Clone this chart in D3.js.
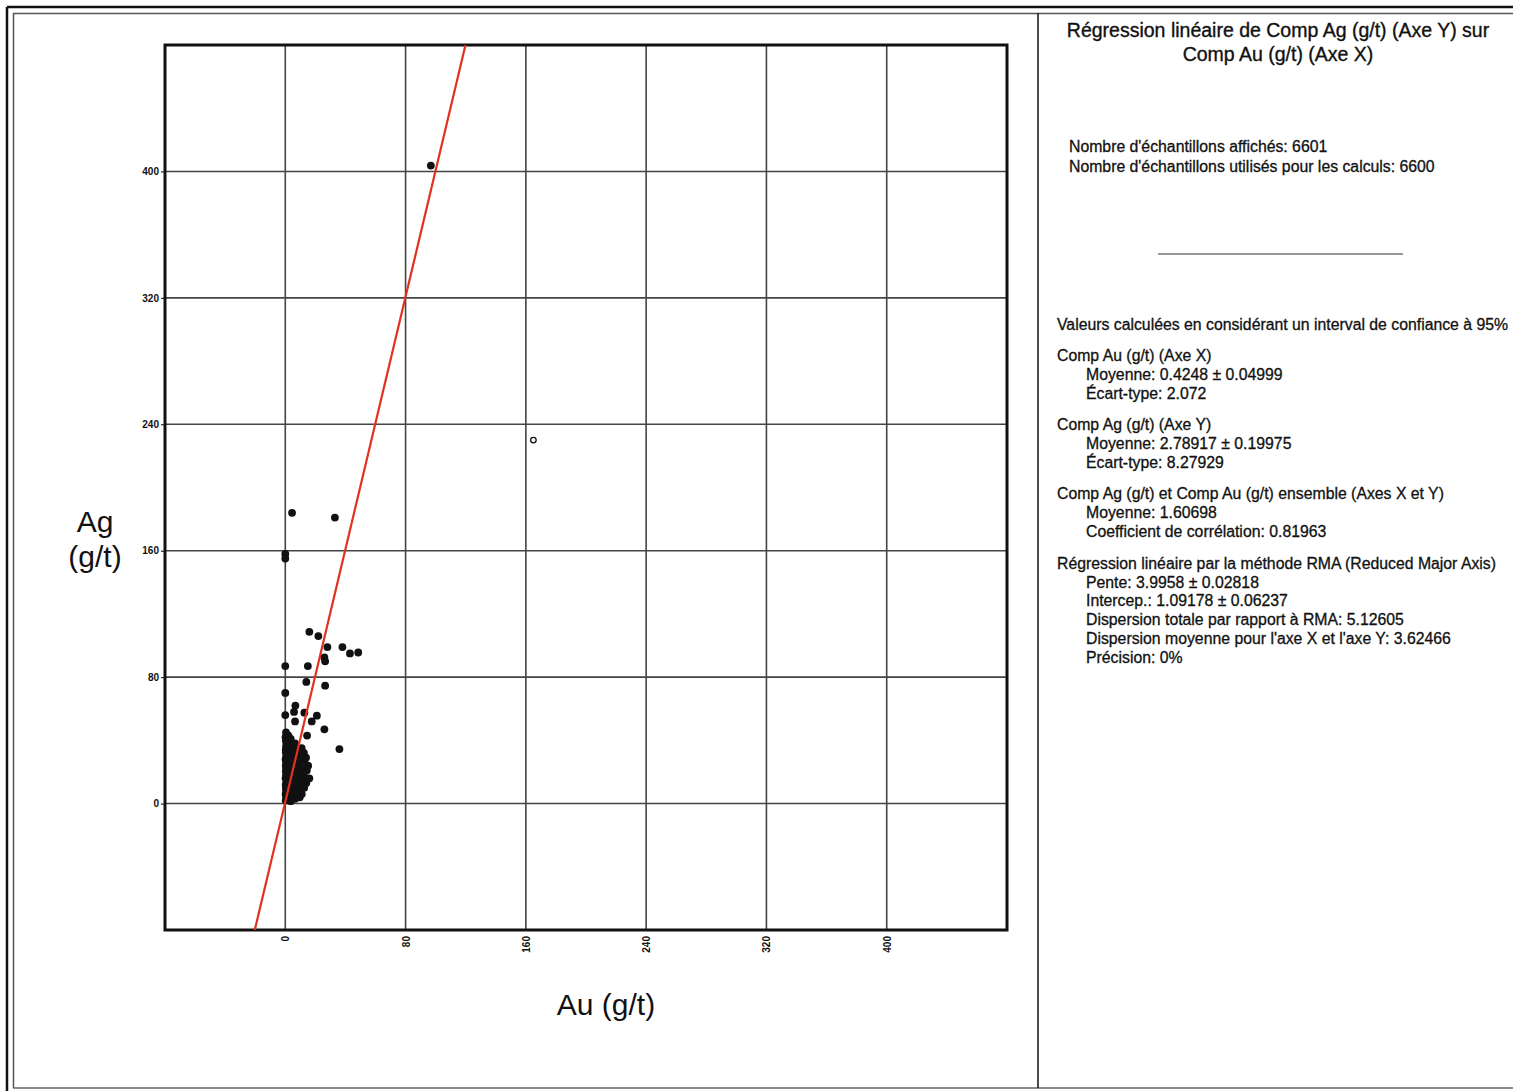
<!DOCTYPE html>
<html>
<head>
<meta charset="utf-8">
<script src="https://cdn.jsdelivr.net/npm/d3@7"></script>
<style>
  body { margin: 0; background: #fff; }
  text { font-family: "Liberation Sans", Arial, sans-serif; }
</style>
</head>
<body>
<div id="canvas"></div>
<script>
var w = 1513;
var h = 1091;

// axis ticks
var xTicks = [0, 80, 160, 240, 320, 400];
var yTicks = [0, 80, 160, 240, 320, 400];

// samples (Au, Ag)
var auVals = [4.5, 33, 0, 0, 16, 22, 28, 38, 43, 48.5, 26, 26.5, 0, 15, 14, 26.5, 0, 6.7, 5.8, 0, 12.7, 21, 17.6, 6.5, 26, 14.5, 36, 96.8,
  0.3, 0.5, 0.2, 0.6, 0.4, 0.3, 0.7, 0.2, 0.5, 0.4, 0.6, 0.3, 0.5, 0.2, 0.6, 0.4, 0.3, 0.5, 0.7, 0.4, 0.2, 0.5,
  2, 2.3, 1.8, 2.1, 2.4, 1.9, 2.2, 2, 2.5, 1.7, 2.1,
  3.6, 3.4, 3.8, 3.5, 3.3, 3.7, 3.6, 3.4, 3.9, 3.5, 3.6,
  5.1, 4.8, 5.3, 5, 4.9, 5.2, 5.4, 4.7, 5.1,
  6.6, 6.3, 6.8, 6.5, 6.4, 6.9, 6.6, 6.2, 6.7, 6.5,
  8.1, 7.8, 8.3, 8, 7.9, 8.4, 8.2, 7.7,
  9.6, 9.3, 9.8, 9.5, 9.4, 9.9, 9.2,
  11, 11.3, 10.8, 11.4, 10.9,
  12.6, 12.3, 12.8, 12.4,
  14, 14.3, 13.8,
  16, 15.2];
var agVals = [184, 181, 158, 155, 108.7, 106, 99, 99, 95, 95.6, 92.5, 90, 87, 87, 77, 74.6, 70, 62, 58, 56, 57.5, 55.6, 52, 52, 47, 43, 34.5, 403.7,
  2, 4.5, 6, 8.5, 10, 12, 14.5, 16, 18, 20.5, 22, 24, 26.5, 28, 30, 32.5, 34, 36, 38.5, 40, 42, 45,
  3, 7, 11.5, 15, 19, 23.5, 27, 31, 35, 39, 43,
  1.5, 5, 9, 13.5, 17, 21, 25, 29.5, 33, 37, 41,
  4, 8, 12.5, 16, 20, 24.5, 28, 32, 36,
  3, 6.5, 10, 14, 18.5, 22, 26, 30, 34.5, 38,
  5, 9.5, 13, 17, 21.5, 25, 29, 33,
  4, 8.5, 12, 19, 23, 27.5, 31,
  6, 15.5, 22, 28, 35,
  10, 18, 25.5, 32,
  13, 21, 29,
  16, 24];

// sample drawn as open circle
var openAu = [165];
var openAg = [230];

// RMA regression
var slope = 3.9958;
var intercept = 1.09178;

var titleLines = ["Régression linéaire de Comp Ag (g/t) (Axe Y) sur", "Comp Au (g/t) (Axe X)"];
var countLines = ["Nombre d'échantillons affichés: 6601", "Nombre d'échantillons utilisés pour les calculs: 6600"];
var statLines = [
  ["Valeurs calculées en considérant un interval de confiance à 95%", 0, 330],
  ["Comp Au (g/t) (Axe X)", 0, 361],
  ["Moyenne: 0.4248 ± 0.04999", 1, 380],
  ["Écart-type: 2.072", 1, 399],
  ["Comp Ag (g/t) (Axe Y)", 0, 430],
  ["Moyenne: 2.78917 ± 0.19975", 1, 449],
  ["Écart-type: 8.27929", 1, 468],
  ["Comp Ag (g/t) et Comp Au (g/t) ensemble (Axes X et Y)", 0, 499],
  ["Moyenne: 1.60698", 1, 518],
  ["Coefficient de corrélation: 0.81963", 1, 537],
  ["Régression linéaire par la méthode RMA (Reduced Major Axis)", 0, 569],
  ["Pente: 3.9958 ± 0.02818", 1, 588],
  ["Intercep.: 1.09178 ± 0.06237", 1, 606],
  ["Dispersion totale par rapport à RMA: 5.12605", 1, 625],
  ["Dispersion moyenne pour l'axe X et l'axe Y: 3.62466", 1, 644],
  ["Précision: 0%", 1, 663]
];

var canvas = d3.select("#canvas")
    .append("svg")
    .attr("width", w)
    .attr("height", h)
    .style("display", "block");

// page frame
canvas.append("line").attr("x1", 7).attr("y1", 7).attr("x2", w).attr("y2", 7)
    .attr("stroke", "#111").attr("stroke-width", 2.5);
canvas.append("line").attr("x1", 7).attr("y1", 7).attr("x2", 7).attr("y2", h)
    .attr("stroke", "#111").attr("stroke-width", 2.5);
canvas.append("line").attr("x1", 13).attr("y1", 13.5).attr("x2", w).attr("y2", 13.5)
    .attr("stroke", "#555").attr("stroke-width", 1.5);
canvas.append("line").attr("x1", 13.5).attr("y1", 13).attr("x2", 13.5).attr("y2", 1088)
    .attr("stroke", "#555").attr("stroke-width", 1.5);
canvas.append("line").attr("x1", 13).attr("y1", 1088).attr("x2", w).attr("y2", 1088)
    .attr("stroke", "#666").attr("stroke-width", 1.5);
canvas.append("line").attr("x1", 1038).attr("y1", 13).attr("x2", 1038).attr("y2", 1088)
    .attr("stroke", "#111").attr("stroke-width", 1.5);

var x = d3.scaleLinear().domain([-80, 480]).range([165, 1007]);
var y = d3.scaleLinear().domain([-80, 480]).range([930, 45]);

// grid
canvas.append("g").selectAll("line")
    .data(xTicks)
    .join("line")
    .attr("x1", d => x(d)).attr("x2", d => x(d))
    .attr("y1", y(480)).attr("y2", y(-80))
    .attr("stroke", "#444").attr("stroke-width", 1.6);
canvas.append("g").selectAll("line")
    .data(yTicks)
    .join("line")
    .attr("x1", x(-80)).attr("x2", x(480))
    .attr("y1", d => y(d)).attr("y2", d => y(d))
    .attr("stroke", "#444").attr("stroke-width", 1.6);

// axes
var yAxis = d3.axisLeft(y).tickValues(yTicks).tickSize(4).tickPadding(2);
var gy = canvas.append("g").attr("transform", "translate(" + x(-80) + ",0)").call(yAxis);
gy.select(".domain").remove();
gy.selectAll("text").style("font-size", "10px").style("font-weight", "bold")
    .style("font-family", "'Liberation Sans', Arial, sans-serif").attr("fill", "#111");

var xAxis = d3.axisBottom(x).tickValues(xTicks).tickSize(0).tickPadding(0);
var gx = canvas.append("g").attr("transform", "translate(0," + y(-80) + ")").call(xAxis);
gx.select(".domain").remove();
gx.selectAll("text")
    .style("font-size", "10px").style("font-weight", "bold")
    .style("font-family", "'Liberation Sans', Arial, sans-serif")
    .attr("fill", "#111")
    .attr("text-anchor", "end")
    .attr("dy", "0.35em")
    .attr("y", 0)
    .attr("transform", "translate(0,6) rotate(-90)");

// plot frame
canvas.append("rect")
    .attr("x", x(-80)).attr("y", y(480))
    .attr("width", x(480) - x(-80)).attr("height", y(-80) - y(480))
    .attr("fill", "none").attr("stroke", "#111").attr("stroke-width", 3);

// points
canvas.append("g").selectAll("circle")
    .data(auVals.map((a, i) => [a, agVals[i]]))
    .join("circle")
    .attr("cx", d => x(d[0])).attr("cy", d => y(d[1]))
    .attr("r", 3.9)
    .attr("fill", "#111");

canvas.append("g").selectAll("circle")
    .data(openAu.map((a, i) => [a, openAg[i]]))
    .join("circle")
    .attr("cx", d => x(d[0])).attr("cy", d => y(d[1]))
    .attr("r", 2.8)
    .attr("fill", "#fff").attr("stroke", "#111").attr("stroke-width", 1.3);

// regression line clipped to frame
canvas.append("clipPath").attr("id", "clip")
    .append("rect")
    .attr("x", x(-80)).attr("y", y(480))
    .attr("width", x(480) - x(-80)).attr("height", y(-80) - y(480));
var x0 = (-80 - intercept) / slope, x1 = (480 - intercept) / slope;
canvas.append("line")
    .attr("clip-path", "url(#clip)")
    .attr("x1", x(x0)).attr("y1", y(slope * x0 + intercept))
    .attr("x2", x(x1)).attr("y2", y(slope * x1 + intercept))
    .attr("stroke", "#e2311d").attr("stroke-width", 2.2);

// axis titles
canvas.append("text").attr("x", 95).attr("y", 532).attr("text-anchor", "middle")
    .style("font-size", "30px").attr("fill", "#111").text("Ag");
canvas.append("text").attr("x", 95).attr("y", 567).attr("text-anchor", "middle")
    .style("font-size", "30px").attr("fill", "#111").text("(g/t)");
canvas.append("text").attr("x", 606).attr("y", 1015).attr("text-anchor", "middle")
    .style("font-size", "30px").attr("fill", "#111").text("Au (g/t)");

// side panel
titleLines.forEach(function(t, i) {
    canvas.append("text").attr("x", 1278).attr("y", 37 + i * 24)
        .attr("text-anchor", "middle").style("font-size", "19.5px")
        .attr("fill", "#111").attr("stroke", "#111").attr("stroke-width", 0.35).text(t);
});
countLines.forEach(function(t, i) {
    canvas.append("text").attr("x", 1069).attr("y", 152 + i * 19.5)
        .style("font-size", "15.8px").attr("fill", "#111")
        .attr("stroke", "#111").attr("stroke-width", 0.3).text(t);
});
canvas.append("line").attr("x1", 1158).attr("x2", 1403).attr("y1", 254).attr("y2", 254)
    .attr("stroke", "#333").attr("stroke-width", 1.2);
statLines.forEach(function(s) {
    canvas.append("text").attr("x", s[1] ? 1086 : 1057).attr("y", s[2])
        .style("font-size", "15.8px").attr("fill", "#111")
        .attr("stroke", "#111").attr("stroke-width", 0.3).text(s[0]);
});
</script>
</body>
</html>
